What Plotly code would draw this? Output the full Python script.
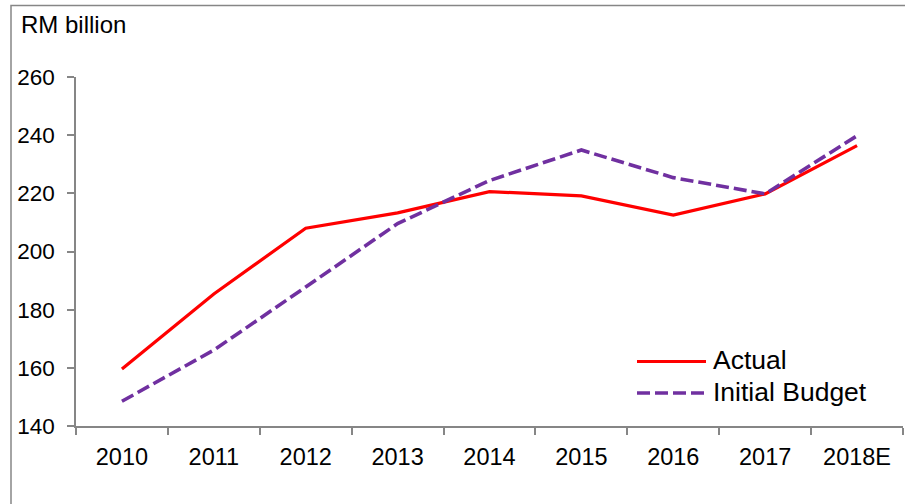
import plotly.graph_objects as go

years = ["2010", "2011", "2012", "2013", "2014", "2015", "2016", "2017", "2018E"]
actual = [159.6, 185.4, 208.0, 213.3, 220.6, 219.1, 212.5, 219.8, 236.4]
initial_budget = [148.5, 166.1, 187.8, 209.6, 224.4, 234.9, 225.4, 219.8, 239.8]

y_ticks = [140, 160, 180, 200, 220, 240, 260]

FONT = "Liberation Sans, Arial, sans-serif"
AXIS_FONT_SIZE = 23.5
LEGEND_FONT_SIZE = 26.5
AXIS_GREY = "#868686"

# plot-area geometry in pixels, used to place paper-referenced extras
PLOT_L, PLOT_R, PLOT_T, PLOT_B = 76, 903, 77, 426


def px_x(px):
    return (px - PLOT_L) / (PLOT_R - PLOT_L)


def px_y(py):
    return (PLOT_B - py) / (PLOT_B - PLOT_T)


series = [
    dict(name="Actual", values=actual,
         line=dict(color="#FF0000", width=3.2)),
    dict(name="Initial Budget", values=initial_budget,
         line=dict(color="#7030A0", width=3.6, dash="13px,5px")),
]

fig = go.Figure()
for s in series:
    fig.add_trace(go.Scatter(x=years, y=s["values"], name=s["name"],
                             mode="lines", line=s["line"], showlegend=False))

# legend: sample line + label for each series
legend_rows = [361.5, 393]
for s, row in zip(series, legend_rows):
    fig.add_shape(type="line", xref="paper", yref="paper",
                  x0=px_x(637), x1=px_x(706), y0=px_y(row), y1=px_y(row),
                  line=s["line"])
    fig.add_annotation(text=s["name"], xref="paper", yref="paper",
                       x=px_x(711), y=px_y(row - 1.5),
                       xanchor="left", yanchor="middle", showarrow=False,
                       font=dict(family=FONT, size=LEGEND_FONT_SIZE,
                                 color="#000000"))

# outer frame (top and left edges visible)
fig.add_shape(type="rect", xref="paper", yref="paper",
              x0=px_x(11), x1=1.2, y0=-0.5, y1=px_y(5.5),
              line=dict(color=AXIS_GREY, width=1.5), fillcolor="rgba(0,0,0,0)")

fig.add_annotation(text="RM billion", xref="paper", yref="paper",
                   x=px_x(18.5), y=px_y(24),
                   xanchor="left", yanchor="middle", showarrow=False,
                   font=dict(family=FONT, size=24, color="#000000"))

fig.update_layout(
    width=905, height=504,
    margin=dict(l=PLOT_L, r=905 - PLOT_R, t=PLOT_T, b=504 - PLOT_B),
    paper_bgcolor="white", plot_bgcolor="white",
    font=dict(family=FONT, size=AXIS_FONT_SIZE, color="#000000"),
    showlegend=False,
    xaxis=dict(
        type="category", categoryorder="array", categoryarray=years,
        range=[-0.5, len(years) - 0.5],
        showline=True, linecolor=AXIS_GREY, linewidth=1.5,
        ticks="outside", tickson="boundaries", ticklen=7,
        tickcolor=AXIS_GREY, tickwidth=1.5,
        showgrid=False, zeroline=False,
        ticklabelstandoff=9,
    ),
    yaxis=dict(
        range=[140, 260], tickvals=y_ticks,
        showline=True, linecolor=AXIS_GREY, linewidth=1.5,
        ticks="outside", ticklen=7, tickcolor=AXIS_GREY, tickwidth=1.5,
        showgrid=False, zeroline=False,
        tickfont=dict(size=22.5),
        ticklabelstandoff=8,
    ),
)

fig.write_html("out.html")
